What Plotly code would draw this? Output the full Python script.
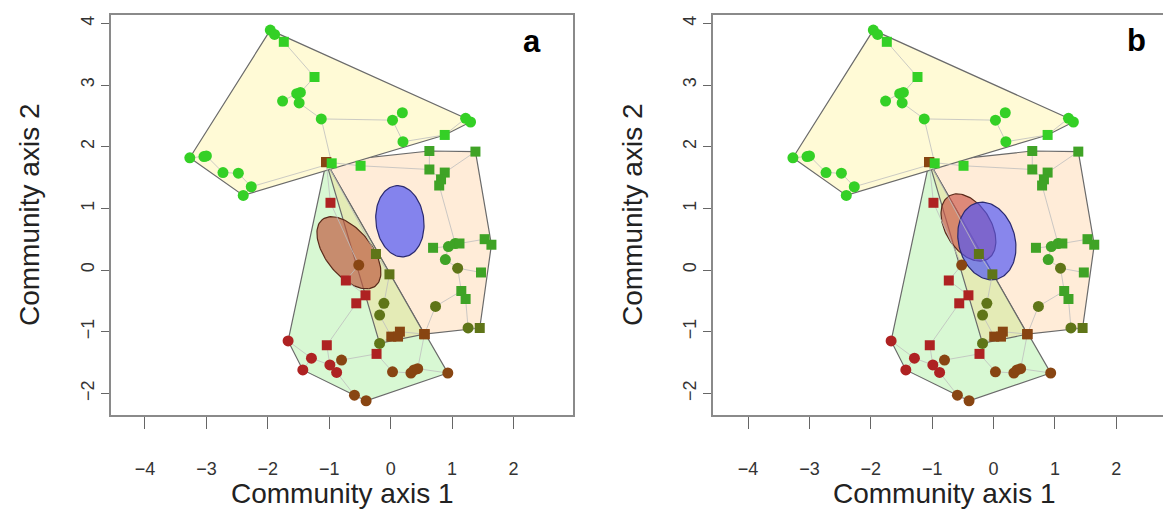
import numpy as np
import plotly.graph_objects as go

# ---------------- data ----------------
x_ticks = [-4, -3, -2, -1, 0, 1, 2]
y_ticks = [-2, -1, 0, 1, 2, 3, 4]
x_title = "Community axis 1"
y_title = "Community axis 2"
panel_labels = ["a", "b"]

# group 1 (yellow hull)
g1_x = [-1.96, -1.89, -1.74, -1.24, -1.53, -1.47, -1.49, -1.76, -1.13, -3.27, -3.04, -3.00,
        -2.73, -2.48, -2.27, -2.40, 0.03, 0.19, 0.20, 0.88, 1.22, 1.30, -0.96]
g1_y = [3.89, 3.82, 3.70, 3.13, 2.86, 2.88, 2.71, 2.74, 2.45, 1.82, 1.84, 1.85,
        1.58, 1.57, 1.35, 1.21, 2.43, 2.55, 2.08, 2.19, 2.46, 2.40, 1.73]
g1_shape = list("ccsscccccccccccccccsccs")
g1_tone = list("BBBBBBBBBBBBBBBBBBBBBBB")

# group 2 (peach hull)
g2_x = [-1.05, -0.49, 0.63, 1.38, 0.63, 0.88, 0.82, 0.79, 0.69, 0.94, 1.05, 1.12,
        0.89, 1.09, 1.53, 1.64, 1.47, 1.15, 1.22, 0.73, 1.26, 1.45, 0.55]
g2_y = [1.75, 1.69, 1.93, 1.92, 1.63, 1.58, 1.47, 1.37, 0.36, 0.38, 0.43, 0.43,
        0.17, 0.03, 0.50, 0.41, -0.04, -0.34, -0.47, -0.59, -0.94, -0.94, -1.04]
g2_shape = list("sssssssssccsccsssssccss")
g2_tone = list("WBGGGGGGGGGGGOGGGGGOOOW")

# group 3 (light green hull)
g3_x = [-1.05, -0.98, -0.52, -0.73, -0.41, -0.56, -1.67, -1.04, -1.29, -1.43, -0.99,
        -0.88, -0.80, -0.23, -0.59, -0.40, 0.03, 0.33, 0.38, 0.44, 0.93, 0.55]
g3_y = [1.75, 1.09, 0.08, -0.17, -0.41, -0.54, -1.15, -1.22, -1.43, -1.62, -1.54,
        -1.66, -1.46, -1.36, -2.03, -2.12, -1.65, -1.67, -1.62, -1.60, -1.67, -1.04]
g3_shape = list("sscssscscccccscccccccs")
g3_tone = list("WRWRRRRRRRRRWRWWWWWWWW")

# group 4 (olive hull)
g4_x = [-1.05, -0.24, -0.02, -0.11, -0.18, 0.01, 0.15, 0.12, -0.18, 0.55]
g4_y = [1.75, 0.26, -0.07, -0.54, -0.73, -1.08, -1.00, -1.08, -1.19, -1.04]
g4_shape = list("ssscc" "sssc" "s")
g4_tone = list("WOOOOWWWOW")

# ellipses: centre x, centre y, semi-major, semi-minor, angle (deg)
ell_a_brown = [-0.68, 0.28, 0.69, 0.37, 129]
ell_a_blue = [0.15, 0.79, 0.58, 0.39, 97]
ell_b_red = [-0.41, 0.69, 0.60, 0.37, 122]
ell_b_blue = [-0.11, 0.47, 0.64, 0.46, 105]

# ---------------- styles ----------------
tone_colors = {"B": "#34d026", "G": "#3fa326", "O": "#5f7518", "W": "#884512", "R": "#ae2222"}
sym = {"c": "circle", "s": "square"}
hull_fill = {"g1": "#fffad6", "g2": "#ffecd8", "g3": "#d8f8d3", "g4": "#e4ebb6"}
FONT = "Liberation Sans, Arial, Helvetica, sans-serif"


def convex_hull(xs, ys):
    pts = sorted(set(zip(xs, ys)))
    if len(pts) < 3:
        return pts

    def cross(o, a, b):
        return (a[0] - o[0]) * (b[1] - o[1]) - (a[1] - o[1]) * (b[0] - o[0])

    lower, upper = [], []
    for p in pts:
        while len(lower) >= 2 and cross(lower[-2], lower[-1], p) <= 0:
            lower.pop()
        lower.append(p)
    for p in reversed(pts):
        while len(upper) >= 2 and cross(upper[-2], upper[-1], p) <= 0:
            upper.pop()
        upper.append(p)
    return lower[:-1] + upper[:-1]


def mst_segments(xs, ys):
    P = np.column_stack([xs, ys])
    n = len(P)
    D = np.sqrt(((P[:, None, :] - P[None, :, :]) ** 2).sum(-1))
    in_tree = np.zeros(n, bool)
    in_tree[0] = True
    best = D[0].copy()
    parent = np.zeros(n, int)
    sx, sy = [], []
    for _ in range(n - 1):
        cand = np.where(in_tree, np.inf, best)
        j = int(np.argmin(cand))
        in_tree[j] = True
        i = parent[j]
        sx += [P[i, 0], P[j, 0], None]
        sy += [P[i, 1], P[j, 1], None]
        upd = D[j] < best
        best = np.where(upd, D[j], best)
        parent = np.where(upd, j, parent)
    return sx, sy


def ellipse_xy(p, n=120):
    cx, cy, a, b, ang = p
    t = np.linspace(0, 2 * np.pi, n)
    th = np.deg2rad(ang)
    x = cx + a * np.cos(t) * np.cos(th) - b * np.sin(t) * np.sin(th)
    y = cy + a * np.cos(t) * np.sin(th) + b * np.sin(t) * np.cos(th)
    return x, y


groups = {
    "g1": (g1_x, g1_y, g1_shape, g1_tone),
    "g2": (g2_x, g2_y, g2_shape, g2_tone),
    "g3": (g3_x, g3_y, g3_shape, g3_tone),
    "g4": (g4_x, g4_y, g4_shape, g4_tone),
}
hull_order = ["g3", "g2", "g4", "g1"]

fig = go.Figure()

panels = [
    ("x", "y", [(ell_a_brown, "rgba(190,88,62,0.68)", "#5a2a1a"),
                (ell_a_blue, "rgba(85,90,245,0.72)", "#2a2a70")]),
    ("x2", "y2", [(ell_b_red, "rgba(205,85,72,0.66)", "#5a2a1a"),
                  (ell_b_blue, "rgba(80,85,245,0.68)", "#2a2a70")]),
]

for xa, ya, ells in panels:
    for g in hull_order:
        xs, ys, _, _ = groups[g]
        h = convex_hull(xs, ys)
        hx = [p[0] for p in h] + [h[0][0]]
        hy = [p[1] for p in h] + [h[0][1]]
        fig.add_trace(go.Scatter(x=hx, y=hy, mode="lines", fill="toself",
                                 fillcolor=hull_fill[g],
                                 line=dict(color="#6a6a6a", width=1.2),
                                 xaxis=xa, yaxis=ya, hoverinfo="skip", showlegend=False))
    for p, fc, lc in ells:
        ex, ey = ellipse_xy(p)
        fig.add_trace(go.Scatter(x=ex, y=ey, mode="lines", fill="toself", fillcolor=fc,
                                 line=dict(color=lc, width=1.2),
                                 xaxis=xa, yaxis=ya, hoverinfo="skip", showlegend=False))
    for g in hull_order:
        xs, ys, _, _ = groups[g]
        sx, sy = mst_segments(xs, ys)
        fig.add_trace(go.Scatter(x=sx, y=sy, mode="lines",
                                 line=dict(color="rgba(190,190,190,0.8)", width=1),
                                 xaxis=xa, yaxis=ya, hoverinfo="skip", showlegend=False))
    for g in hull_order:
        xs, ys, shp, tone = groups[g]
        fig.add_trace(go.Scatter(
            x=xs, y=ys, mode="markers", opacity=1,
            marker=dict(symbol=[sym[s] for s in shp], opacity=1,
                        size=[11 if s == "c" else 10 for s in shp],
                        color=[tone_colors[t] for t in tone],
                        line=dict(width=0)),
            xaxis=xa, yaxis=ya, hoverinfo="skip", showlegend=False))

W, H = 1163, 509
ax_common = dict(showgrid=False, zeroline=False, ticks="outside",
                 tickcolor="#666", tickwidth=1.3, linecolor="#8a8a8a", linewidth=1.6,
                 showline=True, tickfont=dict(family=FONT, size=18, color="#333"))

ydom = [1 - 415 / H, 1 - 15 / H]
fig.update_layout(
    width=W, height=H, margin=dict(l=0, r=0, t=0, b=0),
    paper_bgcolor="white", plot_bgcolor="white",
    xaxis=dict(domain=[111 / W, 573 / W], range=[-4.553, 2.968], tickvals=x_ticks,
               mirror=True, anchor="y", ticklen=12, ticklabelstandoff=25, **ax_common),
    yaxis=dict(domain=ydom, range=[-2.351, 4.135], tickvals=y_ticks, tickangle=-90,
               mirror=True, anchor="x", ticklen=8, ticklabelstandoff=0, **ax_common),
    xaxis2=dict(domain=[713 / W, 1.0], range=[-4.572, 2.760], tickvals=x_ticks,
                mirror=True, anchor="y2", ticklen=12, ticklabelstandoff=25, **ax_common),
    yaxis2=dict(domain=ydom, range=[-2.351, 4.135], tickvals=y_ticks, tickangle=-90,
                mirror=False, anchor="x2", ticklen=8, ticklabelstandoff=0, **ax_common),
)

annos = []
for cx, lx in [(342, 30), (944, 633)]:
    annos.append(dict(x=cx / W, y=1 - 493 / H, xref="paper", yref="paper", text=x_title,
                      showarrow=False, xanchor="center", yanchor="middle",
                      font=dict(family=FONT, size=28, color="#222")))
    annos.append(dict(x=lx / W, y=1 - 215 / H, xref="paper", yref="paper", text=y_title,
                      showarrow=False, xanchor="center", yanchor="middle", textangle=-90,
                      font=dict(family=FONT, size=28, color="#222")))
annos.append(dict(x=532 / W, y=1 - 42 / H, xref="paper", yref="paper",
                  text="<b>" + panel_labels[0] + "</b>",
                  showarrow=False, xanchor="center", yanchor="middle",
                  font=dict(family=FONT, size=31, color="black")))
annos.append(dict(x=1136 / W, y=1 - 40 / H, xref="paper", yref="paper",
                  text="<b>" + panel_labels[1] + "</b>",
                  showarrow=False, xanchor="center", yanchor="middle",
                  font=dict(family=FONT, size=31, color="black")))
fig.update_layout(annotations=annos)

fig.write_html("out.html", config={"displayModeBar": False},
               post_script="document.body.style.margin='0px';"
                           "document.body.style.overflow='hidden';")
